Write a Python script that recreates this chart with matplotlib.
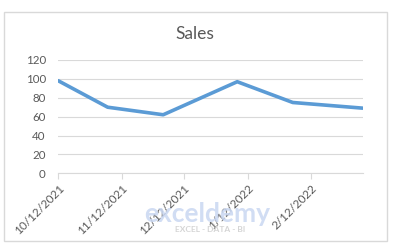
import matplotlib
matplotlib.use("Agg")
import matplotlib.pyplot as plt
import matplotlib.dates as mdates
from matplotlib.patches import Rectangle
import numpy as np

# ---- data ----
dates = ["2021-10-12", "2021-11-05", "2021-12-02", "2022-01-07", "2022-02-03", "2022-03-09"]
sales = [98, 70, 62, 97, 75, 69]
tick_dates = ["2021-10-12", "2021-11-12", "2021-12-12", "2022-01-12", "2022-02-12"]
tick_labels = ["10/12/2021", "11/12/2021", "12/12/2021", "1/12/2022", "2/12/2022"]
y_ticks = [0, 20, 40, 60, 80, 100, 120]
title = "Sales"

plt.rcParams['font.family'] = ['Lato', 'DejaVu Sans']
txt = "#595959"
grid = "#D9D9D9"
blue = "#5B9BD5"

fig = plt.figure(figsize=(3.93, 2.5), dpi=100)
fig.patch.set_facecolor("white")
fig.patches.append(Rectangle((4/393, 9.3/250), 382.7/393, 229/250, transform=fig.transFigure,
                             fill=False, edgecolor=grid, linewidth=1.0))

ax = fig.add_axes([58.3/393, 76.7/250, 304.4/393, 113.3/250])
x = mdates.datestr2num(dates)
xt = mdates.datestr2num(tick_dates)

# watermark
fig.text(207/393, 1 - 214/250, "exceldemy", color="#C9D7F2", fontsize=19, fontweight="bold",
         ha="center", va="center", zorder=0, alpha=0.85)
fig.text(210/393, 1 - 229/250, "EXCEL - DATA - BI", color="#D5D5D5", fontsize=6, fontweight="bold",
         ha="center", va="center", zorder=0)

ax.plot(x, sales, color=blue, linewidth=2.6, solid_capstyle="round", solid_joinstyle="round", zorder=3)

ax.set_xlim(x[0], x[-1])
ax.set_ylim(0, 120)
ax.set_yticks(y_ticks)
ax.set_yticklabels([str(v) for v in y_ticks])
ax.set_xticks(xt)
ax.set_xticklabels(tick_labels, rotation=45, ha="right", va="top", rotation_mode="anchor")

ax.grid(axis="y", color=grid, linewidth=0.8)
ax.set_axisbelow(True)
for s in ["top", "right", "left"]:
    ax.spines[s].set_visible(False)
ax.spines["bottom"].set_color(grid)
ax.spines["bottom"].set_linewidth(0.8)
ax.tick_params(axis="y", length=0, pad=9, labelsize=8.3, labelcolor=txt)
ax.tick_params(axis="x", length=4, width=0.8, color=grid, pad=3, labelsize=8.5, labelcolor=txt)

fig.text(195/393, 1 - 34/250, title, ha="center", va="center", fontsize=12.5, color=txt)

fig.savefig("out.png", dpi=100)
